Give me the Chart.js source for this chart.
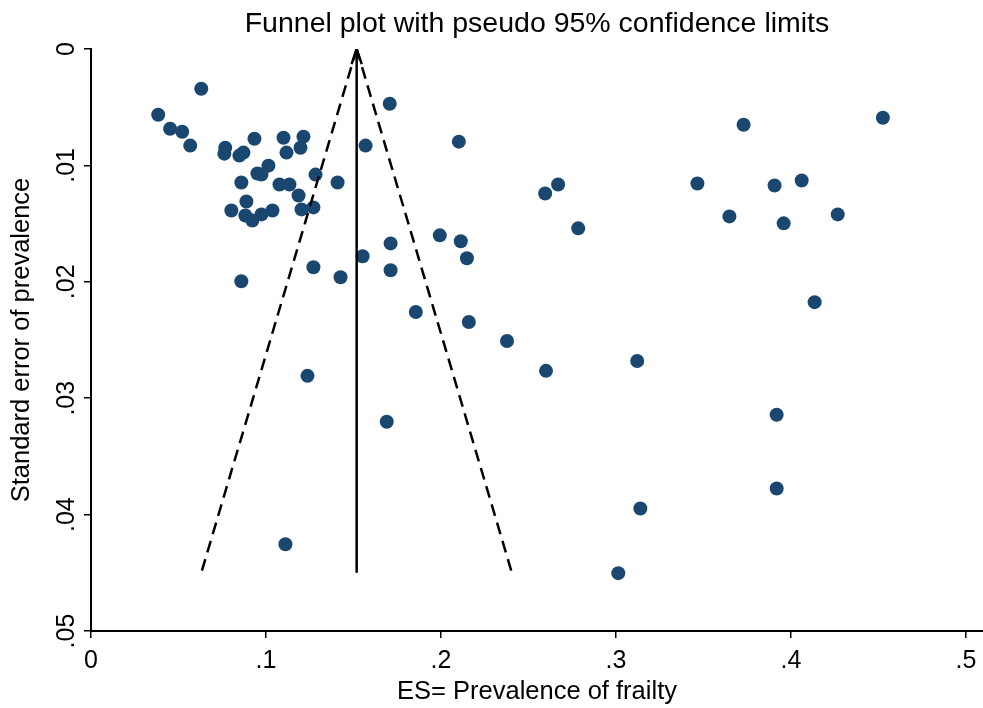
<!DOCTYPE html>
<html lang="en">
	<head>
		<meta charset="UTF-8" />
		<title>Funnel plot</title>
		<script src="https://cdn.jsdelivr.net/npm/chart.js"></script>
		<style>
			body {
				margin: 0;
				background: white;
			}
			#wrap {
				width: 983px;
				height: 708px;
			}
		</style>
	</head>
	<body>
		<div id="wrap"><canvas id="funnelChart" width="983" height="708"></canvas></div>

		<script>
			// study estimates (prevalence) and their standard errors
			const prevalence = [
				0.063, 0.0384, 0.0452, 0.0521, 0.0567, 0.0767, 0.0762, 0.0848, 0.0871, 0.0934,
				0.11, 0.1117, 0.1214, 0.1197, 0.1014, 0.0951, 0.0974, 0.0859, 0.1077, 0.1134,
				0.1283, 0.1409, 0.1186, 0.0888, 0.0802, 0.0882, 0.0922, 0.0974, 0.1037, 0.1203,
				0.1271, 0.1569, 0.1707, 0.1712, 0.1552, 0.1712, 0.1271, 0.1426, 0.0859, 0.1856,
				0.1237, 0.169, 0.1111,
				0.2102, 0.2669, 0.2595, 0.2784, 0.1993, 0.2113, 0.2148, 0.2159, 0.2377, 0.26,
				0.3121, 0.3139, 0.3013,
				0.3729, 0.4525, 0.3465, 0.3906, 0.4061, 0.3648, 0.3958, 0.4267, 0.4135, 0.3918,
				0.3918,
			];
			const stdError = [
				0.00342, 0.00565, 0.00685, 0.00711, 0.0083, 0.00848, 0.00899, 0.00916, 0.0089, 0.00771,
				0.00762, 0.0089, 0.00753, 0.00848, 0.01002, 0.0107, 0.01079, 0.01147, 0.01164, 0.01164,
				0.01079, 0.01147, 0.01259, 0.0131, 0.01387, 0.0143, 0.01473, 0.01421, 0.01387, 0.01378,
				0.01361, 0.0083, 0.00471, 0.0167, 0.01781, 0.01901, 0.01875, 0.01961, 0.01995, 0.0226,
				0.02808, 0.03202, 0.04255,
				0.00796, 0.01164, 0.01241, 0.01541, 0.01601, 0.01652, 0.01798, 0.02346, 0.02509, 0.02765,
				0.0268, 0.03947, 0.04503,
				0.00651, 0.00591, 0.01156, 0.01173, 0.0113, 0.01438, 0.01498, 0.01421, 0.02175, 0.03142,
				0.03776,
			];

			// pooled estimate line and pseudo 95% limits (end points)
			const pooledLine = [
				{ x: 0.1518, y: 0 },
				{ x: 0.1518, y: 0.045 },
			];
			const lowerLimit = [
				{ x: 0.1518, y: 0 },
				{ x: 0.063, y: 0.045 },
			];
			const upperLimit = [
				{ x: 0.1518, y: 0 },
				{ x: 0.2405, y: 0.045 },
			];
			const arrowHead = [
				{ x: 0.1489, y: 0.0013 },
				{ x: 0.1518, y: 0 },
				{ x: 0.1547, y: 0.0013 },
			];

			const xTicks = [0, 0.1, 0.2, 0.3, 0.4, 0.5];
			const yTicks = [0, 0.01, 0.02, 0.03, 0.04, 0.05];
			const chartTitle = "Funnel plot with pseudo 95% confidence limits";

			const studies = prevalence.map((p, i) => ({ x: p, y: stdError[i] }));

			function stataLabel(v) {
				if (v === 0) return "0";
				return String(+v.toFixed(2)).replace(/^0/, "");
			}

			const font = "'Liberation Sans', Arial, sans-serif";

			function lineSet(data, dash) {
				return {
					type: "line",
					data: data,
					borderColor: "#000",
					borderWidth: 2.5,
					borderDash: dash,
					pointRadius: 0,
					fill: false,
					tension: 0,
				};
			}

			// title centred over the plot region, y tick labels written sideways
			const extraText = {
				id: "extraText",
				afterDraw(chart) {
					const ctx = chart.ctx;
					const area = chart.chartArea;
					const y = chart.scales.y;
					ctx.save();
					ctx.fillStyle = "#000";
					ctx.textAlign = "center";
					ctx.textBaseline = "middle";
					ctx.font = "28.5px " + font;
					ctx.fillText(chartTitle, (area.left + area.right) / 2, 24);
					ctx.font = "25px " + font;
					yTicks.forEach((v) => {
						ctx.save();
						ctx.translate(67, y.getPixelForValue(v));
						ctx.rotate(-Math.PI / 2);
						ctx.fillText(stataLabel(v), 0, 0);
						ctx.restore();
					});
					ctx.restore();
				},
			};

			new Chart(document.getElementById("funnelChart"), {
				type: "scatter",
				data: {
					datasets: [
						lineSet(pooledLine, []),
						lineSet(lowerLimit, [12, 7]),
						lineSet(upperLimit, [12, 7]),
						lineSet(arrowHead, []),
						{
							data: studies,
							backgroundColor: "#1a476f",
							borderColor: "#1a476f",
							borderWidth: 0,
							pointRadius: 7,
						},
					],
				},
				plugins: [extraText],
				options: {
					responsive: false,
					animation: false,
					layout: {
						autoPadding: false,
						padding: { left: 7, right: 0, top: 49, bottom: 1 },
					},
					plugins: {
						legend: { display: false },
						tooltip: { enabled: false },
						title: { display: false },
					},
					scales: {
						x: {
							type: "linear",
							min: 0,
							max: 0.5097,
							afterBuildTicks: (scale) => {
								scale.ticks = xTicks.map((v) => ({ value: v }));
							},
							afterFit: (scale) => {
								scale.height = 76;
								scale.paddingRight = 0;
								scale.paddingLeft = 0;
							},
							ticks: {
								color: "#000",
								font: { family: font, size: 25 },
								padding: 8,
								maxRotation: 0,
								callback: stataLabel,
							},
							grid: {
								drawOnChartArea: false,
								color: "#000",
								lineWidth: 1.5,
								tickLength: 7,
							},
							border: { color: "#000", width: 2 },
							title: {
								display: true,
								text: "ES= Prevalence of frailty",
								color: "#000",
								font: { family: font, size: 25.5 },
								padding: { top: 0, bottom: 0 },
							},
						},
						y: {
							type: "linear",
							reverse: true,
							min: 0,
							max: 0.05,
							afterBuildTicks: (scale) => {
								scale.ticks = yTicks.map((v) => ({ value: v }));
							},
							afterFit: (scale) => {
								scale.width = 84;
								scale.paddingTop = 0;
								scale.paddingBottom = 0;
							},
							ticks: {
								display: false,
							},
							grid: {
								drawOnChartArea: false,
								color: "#000",
								lineWidth: 1.5,
								tickLength: 7,
							},
							border: { color: "#000", width: 2 },
							title: {
								display: true,
								text: "Standard error of prevalence",
								color: "#000",
								font: { family: font, size: 25.5 },
								padding: { top: 0, bottom: 0 },
							},
						},
					},
				},
			});
		</script>
	</body>
</html>
